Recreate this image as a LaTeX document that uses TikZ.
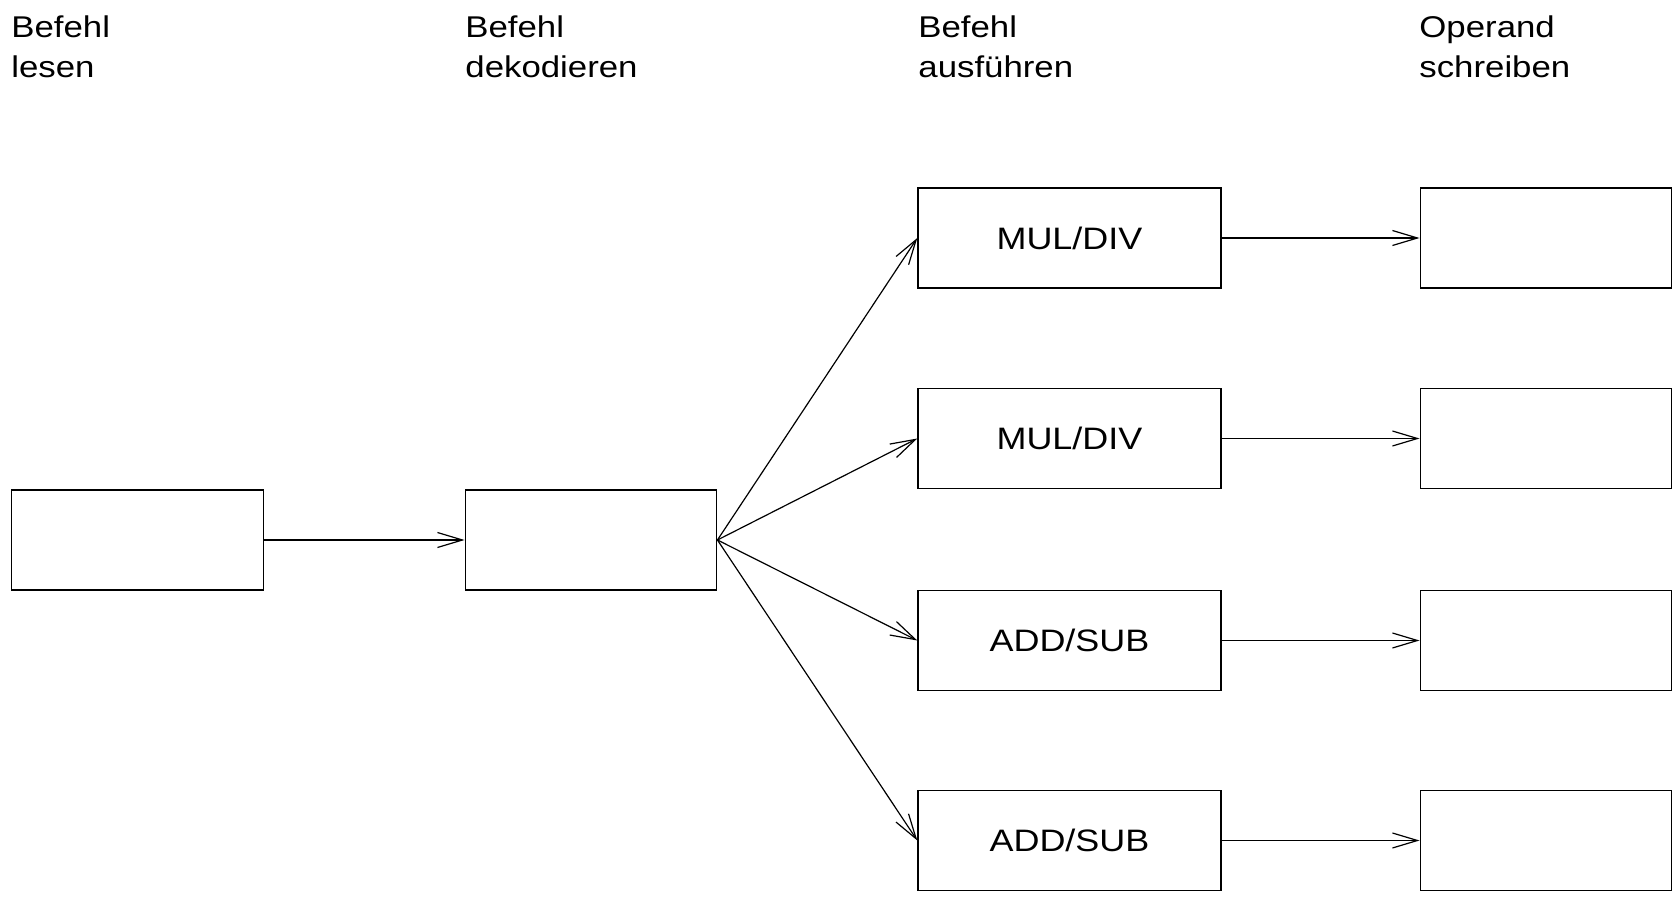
\documentclass[tikz,border=0pt]{standalone}
\usepackage{fontspec}
\setmainfont[FakeStretch=1.16]{Liberation Sans}
\usetikzlibrary{arrows.meta}
\begin{document}
\begin{tikzpicture}[x=0.5pt,y=-0.5pt,
  stage/.style={draw,line width=0.7pt,minimum height=50pt,inner sep=0pt,
    font=\fontsize{15.5}{18}\selectfont},
  wide/.style={stage,minimum width=151.5pt},
  narrow/.style={stage,minimum width=125.75pt},
  phase/.style={anchor=north west,inner sep=0pt,align=left,
    font=\fontsize{15}{20.25}\selectfont},
  flow/.style={line width=0.6pt,-{Straight Barb[length=12.5pt,width=7.5pt,line width=0.6pt]}}]
\useasboundingbox (0,0) rectangle (1677,897);

% phase headings
\node[phase] (h1) at (11,15) {Befehl\\lesen};
\node[phase] (h2) at (465,15) {Befehl\\dekodieren};
\node[phase] (h3) at (918,15) {Befehl\\ausführen};
\node[phase] (h4) at (1419,15) {Operand\\schreiben};

% fetch and decode
\node[narrow] (fetch)  at (137.5,540) {};
\node[narrow] (decode) at (591,540) {};

% execution units
\node[wide] (ex1) at (1069.5,238) {MUL/DIV};
\node[wide] (ex2) at (1069.5,438.5) {MUL/DIV};
\node[wide] (ex3) at (1069.5,640.5) {ADD/SUB};
\node[wide] (ex4) at (1069.5,840.5) {ADD/SUB};

% write-back stages
\node[narrow] (wb1) at (1546,238) {};
\node[narrow] (wb2) at (1546,438.5) {};
\node[narrow] (wb3) at (1546,640.5) {};
\node[narrow] (wb4) at (1546,840.5) {};

\draw[flow] (fetch.east) -- (decode.west);
\foreach \i in {1,2,3,4}{
  \draw[flow] (decode.east) -- (ex\i.west);
  \draw[flow] (ex\i.east) -- (wb\i.west);
}
\end{tikzpicture}
\end{document}
